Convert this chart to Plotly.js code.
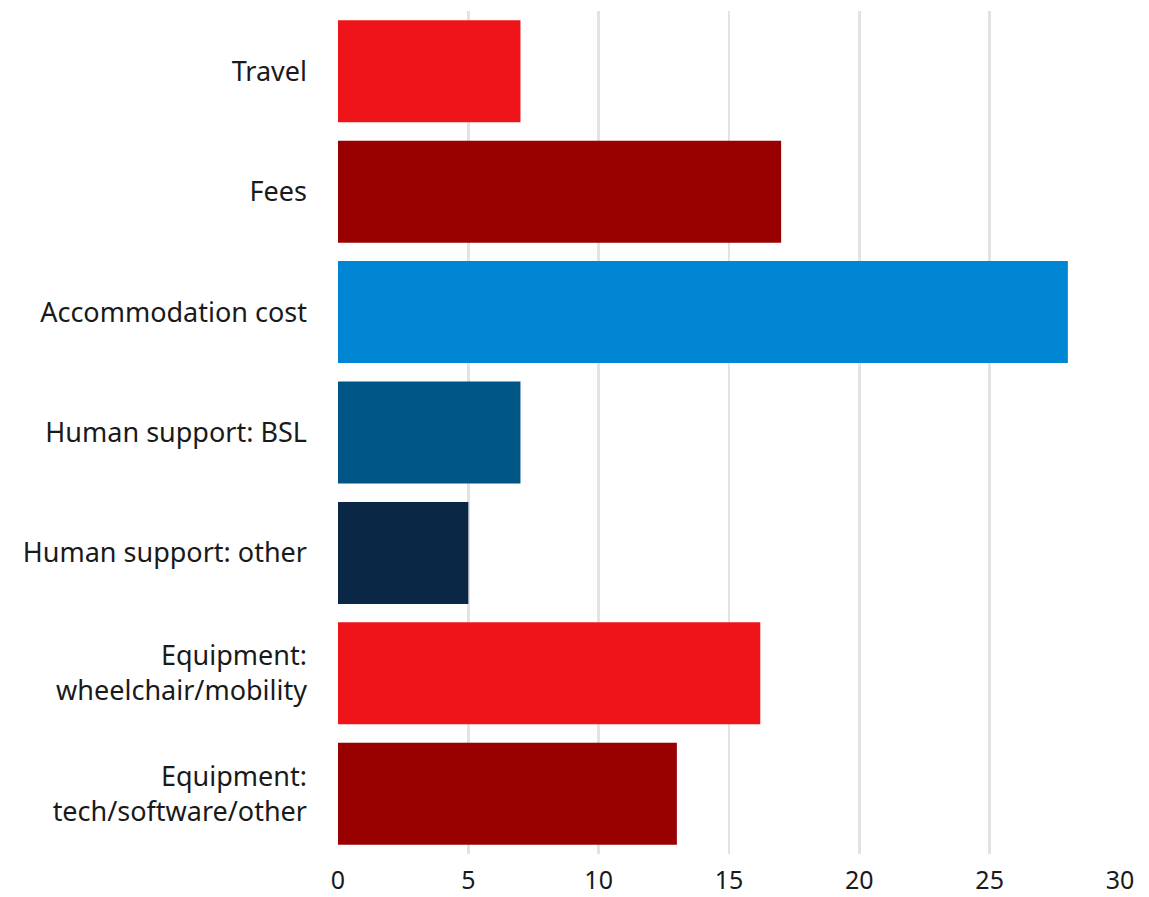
<!DOCTYPE html>
<html>
<head>
<meta charset="utf-8">
<script src="https://cdn.plot.ly/plotly-3.0.1.min.js"></script>
<style>html,body{margin:0;padding:0;background:#fff;}#chart{width:1149px;height:897px;}</style>
</head>
<body>
<div id="chart"></div>
<script>
const categories = ["Travel", "Fees", "Accommodation cost", "Human support: BSL", "Human support: other", "Equipment:<br>wheelchair/mobility", "Equipment:<br>tech/software/other"];
const values = [7, 17, 28, 7, 5, 16.2, 13];
const colors = ["#EF141A", "#990000", "#0086D3", "#005587", "#0A2846", "#EF141A", "#990000"];
const tickVals = [0, 5, 10, 15, 20, 25, 30];

Plotly.newPlot("chart", [{
  type: "bar",
  orientation: "h",
  y: categories,
  x: values,
  marker: {color: colors, line: {width: 0}},
  hoverinfo: "x+y"
}], {
  width: 1149, height: 897,
  margin: {l: 338, r: 29, t: 11, b: 43, pad: 0},
  paper_bgcolor: "#fff", plot_bgcolor: "#fff",
  font: {family: "'Noto Sans', sans-serif", size: 27, color: "#1a1a1a"},
  bargap: 0.153,
  showlegend: false,
  xaxis: {range: [0, 30], tickvals: tickVals, showgrid: true, gridcolor: "#e3e3e3", gridwidth: 2.5,
          zeroline: false, showline: false, ticks: "", ticklabelstandoff: 9,
          tickfont: {size: 25, color: "#1a1a1a"}, fixedrange: true},
  yaxis: {autorange: "reversed", showgrid: false, zeroline: false, showline: false, ticks: "",
          ticklabelstandoff: 30, tickfont: {size: 27, color: "#1a1a1a"}, fixedrange: true}
}, {displayModeBar: false, staticPlot: true});
</script>
</body>
</html>
